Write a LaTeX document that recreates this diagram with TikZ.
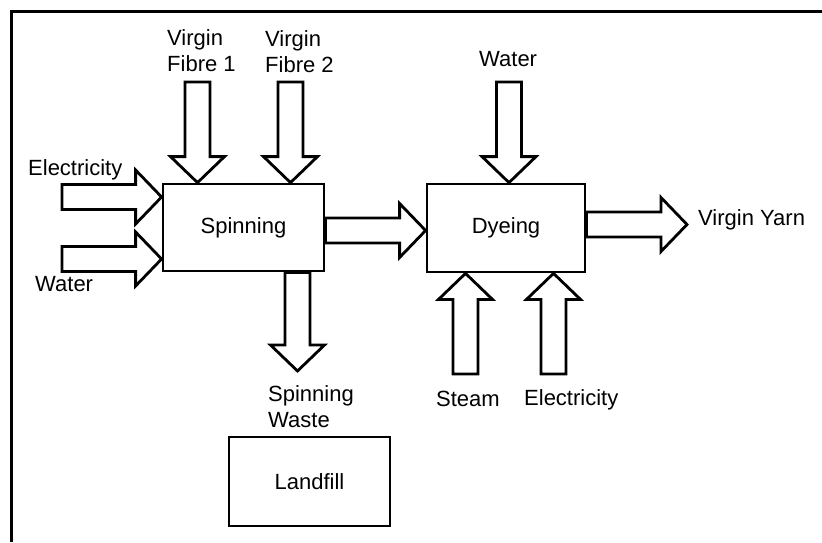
\documentclass[tikz,border=0pt]{standalone}
\usepackage{fontspec}
\setmainfont{Liberation Sans}
\usetikzlibrary{calc}

% Hollow block arrow from #1 to #2 (shaft 25pt wide, head 54pt wide, 26pt long)
\newcommand\flowarrow[2]{%
  \coordinate (fa-a) at #1;
  \coordinate (fa-b) at #2;
  \coordinate (fa-h) at ($(fa-b)!26pt!(fa-a)$);
  \draw[flowline]
    ($(fa-a)!12.5pt!90:(fa-b)$) -- ($(fa-h)!12.5pt!-90:(fa-a)$)
    -- ($(fa-h)!27pt!-90:(fa-a)$) -- (fa-b)
    -- ($(fa-h)!27pt!90:(fa-a)$) -- ($(fa-h)!12.5pt!90:(fa-a)$)
    -- ($(fa-a)!12.5pt!-90:(fa-b)$) -- cycle;}

\tikzset{
  process/.style={draw=black, line width=2.8pt, fill=white, inner sep=0pt,
    font=\fontsize{22}{26}\selectfont},
  flowline/.style={draw=black, line width=2.8pt, fill=white, line join=miter},
  lbl/.style={inner sep=0pt, anchor=base west, align=left,
    font=\fontsize{22}{26}\selectfont},
}

\begin{document}
\begin{tikzpicture}[x=1pt, y=-1pt]
  \useasboundingbox (0,0) rectangle (822,542);
  \fill[white] (0,0) rectangle (822,542);

  % outer frame (top and left edges)
  \draw[line width=3pt] (11,542) -- (11,11) -- (822,11);

  % process boxes
  \node[process, minimum width=161pt, minimum height=87pt] (sp) at (243.5,227.5) {Spinning};
  \node[process, minimum width=158pt, minimum height=88pt] (dy) at (506,228) {Dyeing};
  \node[process, minimum width=161pt, minimum height=89pt] (lf) at (309.5,481.5) {Landfill};

  % free ends of the flows
  \coordinate (elecIn)  at (62,197);
  \coordinate (waterIn) at (62,259);
  \coordinate (fibreA)  at (197.5,82);
  \coordinate (fibreB)  at (290.5,82);
  \coordinate (midflow) at (375,230.5);
  \coordinate (wasteOut) at (297.5,371);
  \coordinate (dyeWater) at (509,82);
  \coordinate (steamIn) at (465.5,374);
  \coordinate (dyeElec) at (553.5,374);
  \coordinate (yarnOut) at (687,224.5);

  % flows into and out of spinning
  \flowarrow{(elecIn)}{(sp.west |- elecIn)}
  \flowarrow{(waterIn)}{(sp.west |- waterIn)}
  \flowarrow{(fibreA)}{(sp.north -| fibreA)}
  \flowarrow{(fibreB)}{(sp.north -| fibreB)}
  \flowarrow{(sp.south -| wasteOut)}{(wasteOut)}
  \flowarrow{(sp.east |- midflow)}{(dy.west |- midflow)}

  % flows into and out of dyeing
  \flowarrow{(dyeWater)}{(dy.north -| dyeWater)}
  \flowarrow{(steamIn)}{(dy.south -| steamIn)}
  \flowarrow{(dyeElec)}{(dy.south -| dyeElec)}
  \flowarrow{(dy.east |- yarnOut)}{(yarnOut)}

  % labels (base anchor of a two-line label sits on its last line)
  \node[lbl] (tFibreA) at (167,71) {Virgin\\Fibre 1};
  \node[lbl] (tFibreB) at (265,72) {Virgin\\Fibre 2};
  \node[lbl] (tElecIn) at (28,175) {Electricity};
  \node[lbl] (tWaterIn) at (35,291) {Water};
  \node[lbl] (tDyeWater) at (479,66) {Water};
  \node[lbl] (tWaste) at (268,427) {Spinning\\Waste};
  \node[lbl] (tSteam) at (436,406) {Steam};
  \node[lbl] (tDyeElec) at (524,405) {Electricity};
  \node[lbl] (tYarn) at (698,225) {Virgin Yarn};
\end{tikzpicture}
\end{document}
